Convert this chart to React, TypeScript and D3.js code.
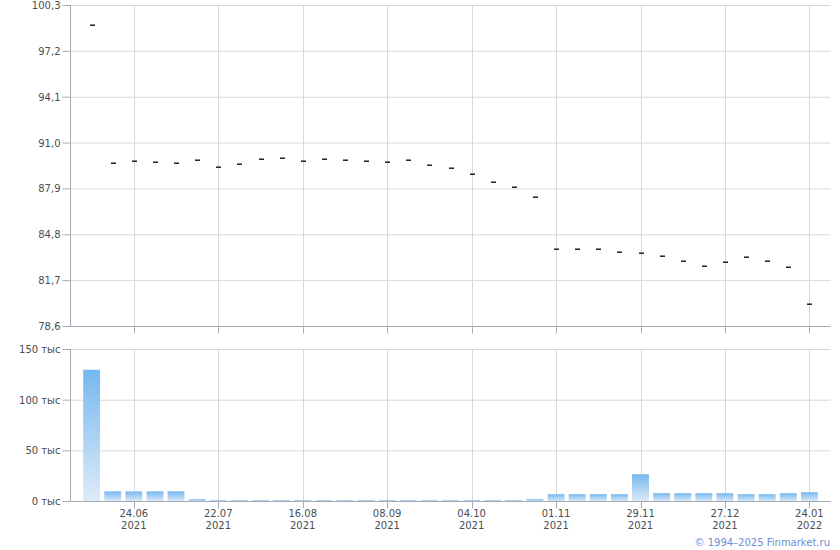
import React from "react";
import * as d3 from "d3";

// Weekly periods (only every 4th period is labelled on the axis)
const periodDays = [
  "", "", "24.06", "", "", "", "22.07", "", "", "", "16.08", "", "", "", "08.09", "", "", "",
  "04.10", "", "", "", "01.11", "", "", "", "29.11", "", "", "", "27.12", "", "", "", "24.01",
];
const periodYears = [
  "", "", "2021", "", "", "", "2021", "", "", "", "2021", "", "", "", "2021", "", "", "",
  "2021", "", "", "", "2021", "", "", "", "2021", "", "", "", "2021", "", "", "", "2022",
];

// Price (close) per period
const closeValues = [
  98.95, 89.66, 89.8, 89.73, 89.66, 89.87, 89.41, 89.6, 89.93, 90.0, 89.8, 89.93, 89.87, 89.8,
  89.73, 89.87, 89.53, 89.33, 88.92, 88.38, 88.04, 87.37, 83.85, 83.85, 83.85, 83.65, 83.58,
  83.38, 83.04, 82.7, 82.97, 83.31, 83.04, 82.63, 80.13,
];

// Volume per period, thousands
const volumes = [
  130, 10, 10, 10, 10, 2.3, 1.2, 1.2, 1.2, 1.2, 1.2, 1.2, 1.2, 1.2, 1.2, 1.2, 1.2, 1.2, 1.2,
  1.2, 1.2, 2.3, 7.2, 7.2, 7.2, 7.2, 26.9, 8.2, 8.2, 8.2, 8.2, 7.2, 7.2, 8.2, 9.2,
];

const priceTicks = [100.3, 97.2, 94.1, 91.0, 87.9, 84.8, 81.7, 78.6];
const volumeTicks = [0, 50, 100, 150];

const FONT = "'DejaVu Sans', Verdana, sans-serif";
const GRID = "#d5d9dd";
const AXIS = "#a7abb5";
const TEXT = "#4a4d55";

export default function App() {
  const W = 840;
  const H = 550;
  const left = 70.5;
  const right = 830.5;

  const idx = periodDays.map((_, i) => i);
  const x = d3.scalePoint<number>().domain(idx).range([left, right]).padding(1);
  const step = x.step();
  const barW = step * 0.8;

  const yP = d3.scaleLinear().domain([78.6, 100.3]).range([326.5, 5.5]);
  const yV = d3.scaleLinear().domain([0, 150]).range([501.5, 349.5]);

  const labelled = idx.filter((i) => periodDays[i] !== "");

  return (
    <div style={{ position: "absolute", left: 0, top: 0 }}>
      <svg width={W} height={H} style={{ display: "block" }} fontFamily={FONT}>
        <defs>
          <linearGradient id="barGrad" x1="0" y1="0" x2="0" y2="1">
            <stop offset="0%" stopColor="#76b8ef" />
            <stop offset="100%" stopColor="#deebf8" />
          </linearGradient>
        </defs>
        <rect x={0} y={0} width={W} height={H} fill="#fff" />

        {/* Price panel grid */}
        {priceTicks.map((t) => (
          <g key={"pg" + t}>
            {t !== 78.6 && (
              <line x1={left} x2={right} y1={yP(t)} y2={yP(t)} stroke={GRID} />
            )}
            <line x1={left - 8} x2={left} y1={yP(t)} y2={yP(t)} stroke={AXIS} />
            <text
              x={left - 10}
              y={yP(t)}
              dy="0.35em"
              textAnchor="end"
              fontSize={10}
              fill={TEXT}
            >
              {t.toFixed(1).replace(".", ",")}
            </text>
          </g>
        ))}
        {labelled.map((i) => (
          <g key={"pv" + i}>
            <line
              x1={Math.round(x(i)!) + 0.5}
              x2={Math.round(x(i)!) + 0.5}
              y1={yP(100.3)}
              y2={yP(78.6)}
              stroke={GRID}
            />
            <line
              x1={Math.round(x(i)!) + 0.5}
              x2={Math.round(x(i)!) + 0.5}
              y1={yP(78.6)}
              y2={yP(78.6) + 7}
              stroke={AXIS}
            />
          </g>
        ))}
        <line x1={left} x2={left} y1={yP(100.3)} y2={yP(78.6)} stroke={AXIS} />
        <line x1={left} x2={right} y1={yP(78.6)} y2={yP(78.6)} stroke={AXIS} />

        {/* Price marks */}
        {closeValues.map((v, i) => (
          <rect
            key={"m" + i}
            x={Math.round(x(i)!) - 2}
            y={Math.round(yP(v)) - 0.5}
            width={5}
            height={1.4}
            fill="#111"
          />
        ))}

        {/* Volume panel grid */}
        {volumeTicks.map((t) => (
          <g key={"vg" + t}>
            {t !== 0 && (
              <line x1={left} x2={right} y1={yV(t)} y2={yV(t)} stroke={GRID} />
            )}
            <line x1={left - 8} x2={left} y1={yV(t)} y2={yV(t)} stroke={AXIS} />
            <text
              x={left - 10}
              y={yV(t)}
              dy="0.35em"
              textAnchor="end"
              fontSize={10}
              fill={TEXT}
            >
              {t + " тыс"}
            </text>
          </g>
        ))}
        {labelled.map((i) => (
          <line
            key={"vv" + i}
            x1={Math.round(x(i)!) + 0.5}
            x2={Math.round(x(i)!) + 0.5}
            y1={yV(150)}
            y2={yV(0)}
            stroke={GRID}
          />
        ))}

        {/* Volume bars */}
        {volumes.map((v, i) => (
          <rect
            key={"b" + i}
            x={x(i)! - barW / 2}
            y={yV(v)}
            width={barW}
            height={yV(0) - yV(v)}
            fill="url(#barGrad)"
          />
        ))}

        <line x1={left} x2={left} y1={yV(150)} y2={yV(0)} stroke={AXIS} />
        <line x1={left} x2={right} y1={yV(0)} y2={yV(0)} stroke={AXIS} />

        {labelled.map((i) => (
          <g key={"xl" + i}>
            <line
              x1={Math.round(x(i)!) + 0.5}
              x2={Math.round(x(i)!) + 0.5}
              y1={yV(0)}
              y2={yV(0) + 7}
              stroke={AXIS}
            />
            <text x={x(i)!} y={517} textAnchor="middle" fontSize={10} fill={TEXT}>
              {periodDays[i]}
            </text>
            <text x={x(i)!} y={529} textAnchor="middle" fontSize={10} fill={TEXT}>
              {periodYears[i]}
            </text>
          </g>
        ))}

        <text x={830} y={546} textAnchor="end" fontSize={10} fill="#6b8fd9">
          © 1994–2025 Finmarket.ru
        </text>
      </svg>
    </div>
  );
}
